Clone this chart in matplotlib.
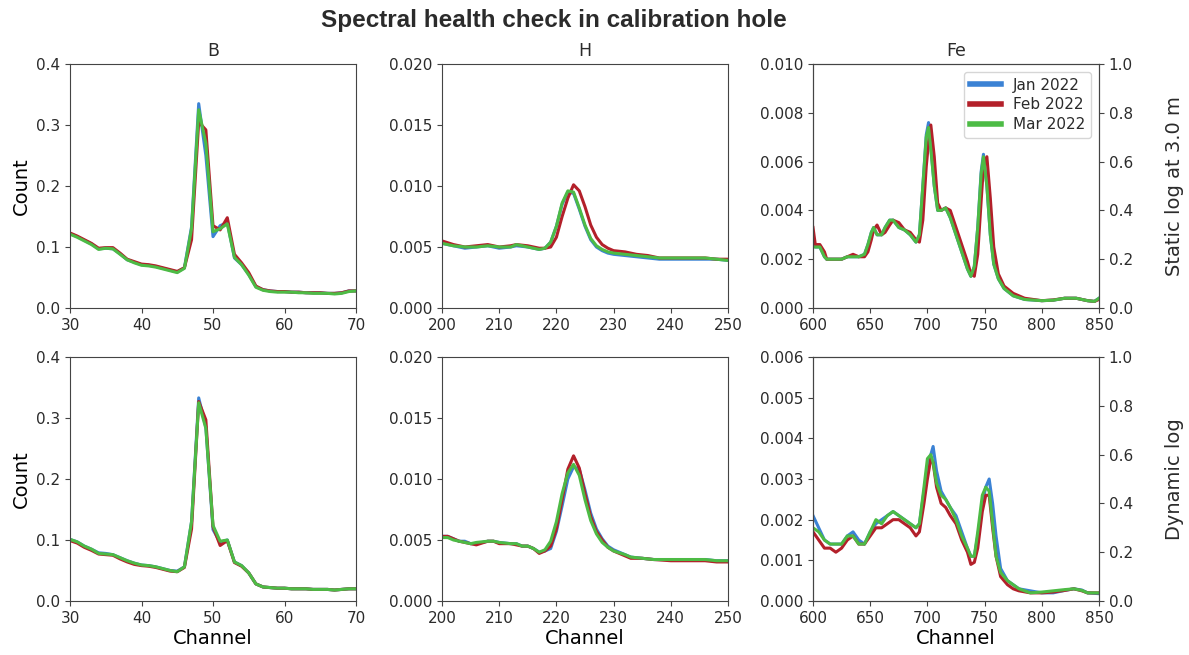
import matplotlib.pyplot as plt

# colours of the three monthly runs
BLUE = '#3b82d4'
RED = '#b3202a'
GREEN = '#4dbb45'
months = ['Jan 2022', 'Feb 2022', 'Mar 2022']

# ---- B, static log ----
b_ch = list(range(30, 71))
b_static_jan = [0.122, 0.117, 0.111, 0.105, 0.097, 0.098, 0.097, 0.089, 0.079, 0.075,
                0.071, 0.070, 0.068, 0.065, 0.062, 0.059, 0.066, 0.133, 0.335, 0.250,
                0.117, 0.135, 0.140, 0.082, 0.071, 0.055, 0.035, 0.030, 0.028, 0.027,
                0.027, 0.026, 0.026, 0.025, 0.025, 0.025, 0.024, 0.024, 0.025, 0.028, 0.028]
b_static_feb = [0.123, 0.118, 0.112, 0.106, 0.098, 0.099, 0.099, 0.090, 0.080, 0.076,
                0.072, 0.071, 0.069, 0.066, 0.063, 0.060, 0.066, 0.112, 0.305, 0.292,
                0.135, 0.128, 0.148, 0.088, 0.074, 0.058, 0.036, 0.030, 0.028, 0.027,
                0.027, 0.026, 0.026, 0.025, 0.025, 0.025, 0.024, 0.024, 0.025, 0.028, 0.028]
b_static_mar = [0.121, 0.116, 0.110, 0.104, 0.096, 0.098, 0.097, 0.088, 0.079, 0.074,
                0.070, 0.069, 0.067, 0.064, 0.061, 0.058, 0.065, 0.130, 0.325, 0.270,
                0.125, 0.130, 0.138, 0.083, 0.071, 0.054, 0.034, 0.029, 0.027, 0.026,
                0.026, 0.026, 0.025, 0.025, 0.024, 0.024, 0.024, 0.023, 0.024, 0.027, 0.028]

# ---- B, dynamic log ----
b_dyn_jan = [0.101, 0.097, 0.090, 0.085, 0.079, 0.078, 0.076, 0.071, 0.066, 0.062,
             0.059, 0.058, 0.056, 0.053, 0.050, 0.049, 0.056, 0.130, 0.333, 0.285,
             0.117, 0.096, 0.100, 0.064, 0.058, 0.046, 0.028, 0.023, 0.022, 0.021,
             0.021, 0.020, 0.020, 0.020, 0.019, 0.019, 0.019, 0.018, 0.019, 0.020, 0.020]
b_dyn_feb = [0.099, 0.095, 0.088, 0.083, 0.077, 0.076, 0.075, 0.069, 0.064, 0.060,
             0.058, 0.057, 0.055, 0.052, 0.049, 0.048, 0.055, 0.118, 0.327, 0.297,
             0.122, 0.091, 0.099, 0.063, 0.057, 0.046, 0.028, 0.023, 0.022, 0.021,
             0.021, 0.020, 0.020, 0.020, 0.019, 0.019, 0.019, 0.018, 0.019, 0.020, 0.020]
b_dyn_mar = [0.101, 0.097, 0.090, 0.085, 0.078, 0.077, 0.076, 0.071, 0.066, 0.062,
             0.059, 0.058, 0.056, 0.053, 0.050, 0.048, 0.056, 0.130, 0.325, 0.283,
             0.124, 0.098, 0.100, 0.064, 0.058, 0.046, 0.028, 0.023, 0.022, 0.021,
             0.021, 0.020, 0.020, 0.020, 0.019, 0.019, 0.019, 0.018, 0.019, 0.020, 0.020]

# ---- H, static log ----
h_ch = [200, 202, 204, 206, 208, 210, 212, 213, 215, 217, 218, 219, 220, 221, 222, 223,
        224, 225, 226, 227, 228, 229, 230, 232, 234, 236, 238, 240, 243, 246, 248, 250]
h_static_jan = [0.0053, 0.0051, 0.0049, 0.0050, 0.0051, 0.0049, 0.0050, 0.0051, 0.0050,
                0.0048, 0.0049, 0.0054, 0.0067, 0.0085, 0.0095, 0.0094, 0.0081, 0.0067,
                0.0056, 0.0050, 0.0047, 0.0045, 0.0044, 0.0043, 0.0042, 0.0041, 0.0040,
                0.0040, 0.0040, 0.0040, 0.0040, 0.0039]
h_static_feb = [0.0055, 0.0052, 0.0050, 0.0051, 0.0052, 0.0050, 0.0051, 0.0052, 0.0051,
                0.0049, 0.0049, 0.0050, 0.0058, 0.0075, 0.0090, 0.0101, 0.0096, 0.0083,
                0.0068, 0.0058, 0.0052, 0.0049, 0.0047, 0.0046, 0.0044, 0.0043, 0.0041,
                0.0041, 0.0041, 0.0041, 0.0040, 0.0040]
h_static_mar = [0.0053, 0.0051, 0.0050, 0.0050, 0.0051, 0.0050, 0.0050, 0.0052, 0.0050,
                0.0048, 0.0049, 0.0054, 0.0067, 0.0086, 0.0096, 0.0095, 0.0082, 0.0068,
                0.0057, 0.0051, 0.0048, 0.0046, 0.0045, 0.0044, 0.0043, 0.0042, 0.0041,
                0.0041, 0.0041, 0.0041, 0.0040, 0.0039]

# ---- H, dynamic log ----
h_dyn_ch = [200, 201, 202, 203, 204, 205, 206, 208, 209, 210, 212, 213, 214, 215, 216,
            217, 218, 219, 220, 221, 222, 223, 224, 225, 226, 227, 228, 229, 230, 232,
            233, 235, 237, 240, 243, 246, 248, 250]
h_dyn_jan = [0.0053, 0.0053, 0.0051, 0.0049, 0.0049, 0.0047, 0.0047, 0.0049, 0.0049,
             0.0048, 0.0047, 0.0047, 0.0045, 0.0045, 0.0043, 0.0040, 0.0041, 0.0043,
             0.0057, 0.0078, 0.0100, 0.0110, 0.0108, 0.0091, 0.0072, 0.0059, 0.0051,
             0.0045, 0.0042, 0.0038, 0.0036, 0.0035, 0.0034, 0.0034, 0.0034, 0.0034,
             0.0033, 0.0033]
h_dyn_feb = [0.0053, 0.0053, 0.0051, 0.0049, 0.0048, 0.0047, 0.0046, 0.0049, 0.0049,
             0.0047, 0.0047, 0.0046, 0.0045, 0.0045, 0.0043, 0.0039, 0.0041, 0.0045,
             0.0059, 0.0083, 0.0108, 0.0119, 0.0109, 0.0088, 0.0069, 0.0057, 0.0050,
             0.0044, 0.0041, 0.0037, 0.0035, 0.0035, 0.0034, 0.0033, 0.0033, 0.0033,
             0.0032, 0.0032]
h_dyn_mar = [0.0052, 0.0052, 0.0050, 0.0049, 0.0048, 0.0047, 0.0048, 0.0049, 0.0049,
             0.0048, 0.0047, 0.0047, 0.0045, 0.0045, 0.0043, 0.0040, 0.0042, 0.0049,
             0.0065, 0.0088, 0.0105, 0.0112, 0.0103, 0.0083, 0.0066, 0.0055, 0.0048,
             0.0044, 0.0041, 0.0038, 0.0036, 0.0035, 0.0034, 0.0034, 0.0034, 0.0034,
             0.0033, 0.0033]

# ---- Fe, static log ----
fe_ch = [600, 602, 606, 610, 612, 620, 625, 630, 635, 640, 645, 648, 651, 653, 656, 660,
         663, 667, 670, 675, 680, 685, 690, 693, 696, 699, 701, 703, 706, 709, 712, 716,
         720, 725, 730, 735, 738, 741, 744, 747, 749, 752, 755, 758, 762, 767, 775, 785,
         800, 810, 820, 830, 840, 846, 850]
fe_static_jan = [0.0028, 0.0025, 0.0025, 0.0021, 0.0020, 0.0020, 0.0020, 0.0021, 0.0021,
                 0.0021, 0.0022, 0.0026, 0.0031, 0.0033, 0.0030, 0.0030, 0.0033, 0.0036,
                 0.0036, 0.0033, 0.0032, 0.0030, 0.0027, 0.0030, 0.0050, 0.0071, 0.0076,
                 0.0066, 0.0050, 0.0040, 0.0040, 0.0041, 0.0037, 0.0030, 0.0023, 0.0016,
                 0.0013, 0.0017, 0.0033, 0.0056, 0.0063, 0.0050, 0.0030, 0.0018, 0.0012,
                 0.0008, 0.0005, 0.00035, 0.0003, 0.00032, 0.0004, 0.0004, 0.0003, 0.00027,
                 0.0004]
fe_static_feb = [0.0033, 0.0026, 0.0026, 0.0023, 0.0020, 0.0020, 0.0020, 0.0021, 0.0022,
                 0.0021, 0.0021, 0.0023, 0.0028, 0.0032, 0.0034, 0.0030, 0.0031, 0.0034,
                 0.0036, 0.0035, 0.0032, 0.0031, 0.0028, 0.0027, 0.0036, 0.0058, 0.0068,
                 0.0075, 0.0062, 0.0043, 0.0040, 0.0041, 0.0040, 0.0033, 0.0026, 0.0019,
                 0.0014, 0.0013, 0.0022, 0.0044, 0.0058, 0.0062, 0.0045, 0.0025, 0.0014,
                 0.0009, 0.0006, 0.0004, 0.0003, 0.00033, 0.0004, 0.0004, 0.0003, 0.00027,
                 0.00035]
fe_static_mar = [0.0025, 0.0025, 0.0025, 0.0021, 0.0020, 0.0020, 0.0020, 0.0021, 0.0021,
                 0.0021, 0.0022, 0.0026, 0.0031, 0.0033, 0.0030, 0.0030, 0.0033, 0.0036,
                 0.0036, 0.0033, 0.0032, 0.0030, 0.0027, 0.0030, 0.0050, 0.0070, 0.0074,
                 0.0065, 0.0050, 0.0040, 0.0040, 0.0041, 0.0037, 0.0030, 0.0023, 0.0016,
                 0.0013, 0.0017, 0.0033, 0.0055, 0.0062, 0.0050, 0.0030, 0.0018, 0.0012,
                 0.0008, 0.0005, 0.00035, 0.0003, 0.00032, 0.0004, 0.0004, 0.0003, 0.00027,
                 0.0004]

# ---- Fe, dynamic log ----
fe_dyn_ch = [600, 605, 610, 615, 620, 625, 630, 635, 640, 645, 650, 655, 660, 665, 670,
             675, 680, 685, 690, 693, 697, 700, 703, 705, 708, 712, 716, 720, 725, 730,
             735, 738, 741, 744, 748, 751, 754, 757, 760, 764, 770, 775, 780, 790, 800,
             810, 820, 828, 835, 840, 850]
fe_dyn_jan = [0.0021, 0.0018, 0.0015, 0.0014, 0.0014, 0.0014, 0.0016, 0.0017, 0.0015,
              0.0014, 0.0017, 0.0019, 0.0020, 0.0021, 0.0022, 0.0021, 0.0020, 0.0019,
              0.0018, 0.0019, 0.0027, 0.0033, 0.0036, 0.0038, 0.0032, 0.0027, 0.0025,
              0.0023, 0.0021, 0.0017, 0.0013, 0.0011, 0.0011, 0.0016, 0.0024, 0.0028,
              0.0030, 0.0024, 0.0016, 0.0008, 0.0005, 0.0004, 0.0003, 0.00025, 0.0002,
              0.0002, 0.00026, 0.0003, 0.00027, 0.0002, 0.00018]
fe_dyn_feb = [0.0017, 0.0015, 0.0013, 0.0013, 0.0012, 0.0013, 0.0015, 0.0016, 0.0014,
              0.0014, 0.0016, 0.0018, 0.0018, 0.0019, 0.0020, 0.0020, 0.0019, 0.0018,
              0.0016, 0.0017, 0.0024, 0.0030, 0.0035, 0.0034, 0.0028, 0.0024, 0.0023,
              0.0021, 0.0019, 0.0015, 0.0012, 0.0009, 0.00095, 0.0013, 0.0022, 0.0026,
              0.0026, 0.0018, 0.0011, 0.0006, 0.0004, 0.0003, 0.00025, 0.0002, 0.0002,
              0.00022, 0.00026, 0.0003, 0.00025, 0.0002, 0.0002]
fe_dyn_mar = [0.0018, 0.0017, 0.0015, 0.0014, 0.0014, 0.0014, 0.0016, 0.0016, 0.0014,
              0.0014, 0.0017, 0.0020, 0.0019, 0.0021, 0.0022, 0.0021, 0.0020, 0.0019,
              0.0018, 0.0019, 0.0028, 0.0035, 0.0036, 0.0034, 0.0029, 0.0026, 0.0025,
              0.0023, 0.0020, 0.0016, 0.0013, 0.0011, 0.0011, 0.0017, 0.0026, 0.0028,
              0.0027, 0.0019, 0.0011, 0.0007, 0.0005, 0.0004, 0.0003, 0.0002, 0.00022,
              0.00025, 0.00028, 0.0003, 0.00026, 0.0002, 0.0002]

panels = [
    # row, col, channels, (jan, feb, mar), xlim, xticks, ylim, yticks, fmt
    (0, 0, b_ch, (b_static_jan, b_static_feb, b_static_mar), (30, 70), range(30, 71, 10),
     (0, 0.4), [0, 0.1, 0.2, 0.3, 0.4], '{:.1f}'),
    (0, 1, h_ch, (h_static_jan, h_static_feb, h_static_mar), (200, 250), range(200, 251, 10),
     (0, 0.02), [0, 0.005, 0.01, 0.015, 0.02], '{:.3f}'),
    (0, 2, fe_ch, (fe_static_jan, fe_static_feb, fe_static_mar), (600, 850), range(600, 851, 50),
     (0, 0.01), [0, 0.002, 0.004, 0.006, 0.008, 0.01], '{:.3f}'),
    (1, 0, b_ch, (b_dyn_jan, b_dyn_feb, b_dyn_mar), (30, 70), range(30, 71, 10),
     (0, 0.4), [0, 0.1, 0.2, 0.3, 0.4], '{:.1f}'),
    (1, 1, h_dyn_ch, (h_dyn_jan, h_dyn_feb, h_dyn_mar), (200, 250), range(200, 251, 10),
     (0, 0.02), [0, 0.005, 0.01, 0.015, 0.02], '{:.3f}'),
    (1, 2, fe_dyn_ch, (fe_dyn_jan, fe_dyn_feb, fe_dyn_mar), (600, 850), range(600, 851, 50),
     (0, 0.006), [0, 0.001, 0.002, 0.003, 0.004, 0.005, 0.006], '{:.3f}'),
]
titles = ['B', 'H', 'Fe']
row_labels = ['Static log at 3.0 m', 'Dynamic log']

TXT = '#2b2b2b'
plt.rcParams['font.family'] = 'DejaVu Sans'
plt.rcParams['text.color'] = TXT
plt.rcParams['axes.edgecolor'] = '#444444'
plt.rcParams['xtick.color'] = '#444444'
plt.rcParams['ytick.color'] = '#444444'
plt.rcParams['xtick.labelcolor'] = TXT
plt.rcParams['ytick.labelcolor'] = TXT

W, H = 1189, 655
fig = plt.figure(figsize=(W / 100, H / 100), dpi=100)
lefts = [70, 442, 813]
bottoms = [308, 601]
aw, ah = 286, 244

for row, col, ch, series, xlim, xticks, ylim, yticks, fmt in panels:
    ax = fig.add_axes([lefts[col] / W, 1 - bottoms[row] / H, aw / W, ah / H])
    for ys, c, lab in zip(series, [BLUE, RED, GREEN], months):
        ax.plot(ch, ys, color=c, lw=2.2, label=lab)
    ax.set_xlim(*xlim)
    ax.set_ylim(*ylim)
    ax.set_xticks(list(xticks))
    ax.set_yticks(yticks)
    ax.set_yticklabels([fmt.format(v) for v in yticks])
    ax.tick_params(labelsize=11)
    if row == 0:
        ax.set_title(titles[col], fontsize=12.5, pad=6)
    else:
        ax.set_xlabel('Channel', fontsize=14, labelpad=2)
    if col == 0:
        ax.set_ylabel('Count', fontsize=14)
    if col == 2:
        tw = ax.twinx()
        tw.set_ylim(0, 1)
        tw.set_yticks([0, 0.2, 0.4, 0.6, 0.8, 1.0])
        tw.set_yticklabels(['0.0', '0.2', '0.4', '0.6', '0.8', '1.0'])
        tw.tick_params(labelsize=11)
        if row == 0:
            leg = ax.legend(loc='upper right', fontsize=11, handlelength=2.0,
                            borderpad=0.4, labelspacing=0.3)
            for ln in leg.get_lines():
                ln.set_linewidth(4)
        fig.text(1174 / W, 1 - (bottoms[row] - ah / 2) / H, row_labels[row],
                 rotation=90, fontsize=14, ha='center', va='center')

fig.text(554 / W, 1 - 20 / H, 'Spectral health check in calibration hole',
         fontsize=17.5, fontweight='bold', family='Liberation Sans', ha='center', va='center')

fig.savefig('out.png', dpi=100)
